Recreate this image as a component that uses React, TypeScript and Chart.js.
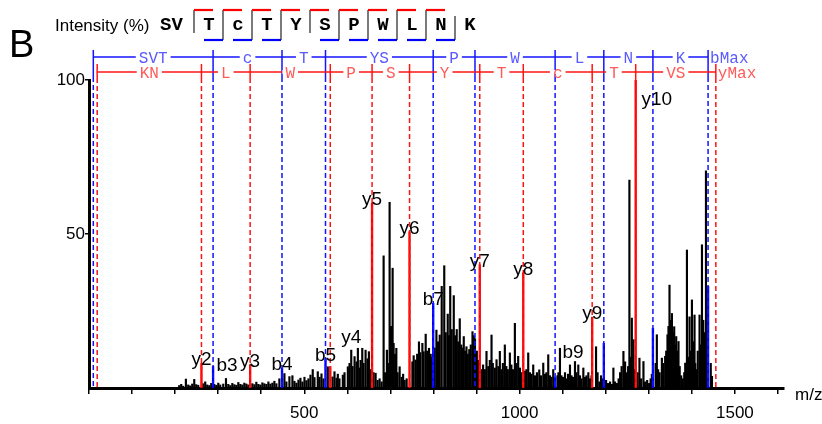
import React, { useEffect, useRef } from 'react';
import { Chart, registerables } from 'chart.js';
Chart.register(...registerables);

// ---------- data ----------
const sequence = 'SVTcTYSPWLNK';
const bBreaksShown = [3, 4, 5, 7, 8, 9, 10, 11];
const yBreaksShown = [2, 3, 4, 5, 6, 7, 8, 9, 10];

const bLadderMz = [10, 288.16, 448.19, 549.24, 799.33, 896.38, 1082.46, 1195.55, 1309.59, 1437.69];
const bLadderLabels = ['SVT', 'c', 'T', 'YS', 'P', 'W', 'L', 'N', 'K'];
const yLadderMz = [19, 261.16, 374.24, 560.32, 657.37, 744.4, 907.47, 1008.51, 1168.55, 1269.59, 1455.69];
const yLadderLabels = ['KN', 'L', 'W', 'P', 'S', 'Y', 'T', 'c', 'T', 'VS'];

const yPeakNames = ['y2', 'y3', 'y4', 'y5', 'y6', 'y7', 'y8', 'y9', 'y10'];
const yPeakMz = [261.16, 374.24, 560.32, 657.37, 744.4, 907.47, 1008.51, 1168.55, 1269.59];
const yPeakInt = [8, 7.6, 7, 60, 50.7, 40, 37.4, 23, 100];

const bPeakNames = ['b3', 'b4', 'b5', 'b7', 'b9', '', '', ''];
const bPeakMz = [288.16, 448.19, 549.24, 799.33, 1082.46, 1195.55, 1309.59, 1437.69];
const bPeakInt = [7, 6.5, 9.5, 27.5, 3.5, 14.5, 19.4, 33];

const spectrumMz = [
  209.4, 214.1, 218.7, 225.0, 230.4, 235.0, 239.7, 244.4, 249.0, 253.7, 265.3, 269.9, 274.6, 279.3, 283.9,
  290.9, 295.5, 300.2, 304.8, 311.8, 318.1, 323.5, 328.1, 332.8, 337.5, 342.1, 346.8, 351.4, 356.0, 360.7,
  365.4, 370.0, 379.3, 384.0, 388.6, 393.3, 397.9, 402.6, 407.2, 411.9, 416.6, 421.2, 425.9, 430.5, 435.2,
  442.1, 453.8, 458.4, 465.4, 472.4, 477.1, 481.7, 486.4, 491.0, 495.7, 500.4, 505.0, 509.6, 514.3, 519.6,
  523.6, 531.3, 535.3, 539.9, 544.5, 554.5, 565.5, 570.1, 574.8, 577.8, 581.6, 589.5, 593.4, 601.1, 605.0,
  609.0, 612.0, 616.7, 621.3, 624.4, 628.3, 630.6, 634.6, 637.6, 642.3, 646.9, 650.0, 653.9, 660.9, 665.6,
  670.2, 674.9, 679.5, 684.2, 687.7, 691.8, 695.8, 698.1, 700.5, 703.5, 705.1, 707.4, 710.9, 713.7, 716.7,
  721.4, 726.0, 729.5, 733.0, 737.7, 751.0, 754.0, 758.6, 762.1, 766.3, 769.1, 774.2, 777.2, 781.9, 785.4,
  789.6, 793.5, 797.0, 802.8, 806.8, 810.5, 814.5, 819.1, 825.0, 828.4, 833.1, 835.9, 838.9, 842.4, 847.1,
  850.6, 854.0, 857.5, 861.0, 864.5, 868.0, 870.3, 873.8, 876.6, 879.6, 883.1, 886.6, 890.6, 893.6, 896.4,
  900.6, 903.6, 911.1, 915.2, 919.2, 923.1, 927.3, 930.8, 934.8, 937.8, 942.5, 946.4, 950.6, 954.1, 957.6,
  961.1, 965.7, 969.2, 972.7, 977.4, 980.9, 984.4, 989.0, 992.5, 996.7, 1000.7, 1004.1, 1012.3, 1015.8, 1020.0,
  1023.9, 1027.4, 1031.6, 1035.6, 1040.2, 1045.6, 1049.5, 1054.9, 1058.8, 1062.3, 1066.5, 1070.5, 1073.9, 1078.1, 1087.9,
  1090.2, 1093.7, 1097.2, 1100.7, 1105.4, 1108.9, 1112.4, 1117.0, 1120.5, 1124.0, 1128.6, 1132.1, 1136.3, 1140.3, 1143.8,
  1148.0, 1151.9, 1155.4, 1159.6, 1163.6, 1167.0, 1177.5, 1181.0, 1185.2, 1189.1, 1192.6, 1200.8, 1205.4, 1210.1, 1214.7,
  1217.8, 1221.7, 1226.4, 1229.9, 1233.4, 1236.9, 1241.1, 1245.0, 1248.5, 1252.0, 1255.0, 1257.8, 1260.6, 1264.3, 1267.1,
  1274.1, 1278.3, 1282.2, 1287.6, 1291.5, 1296.2, 1300.8, 1304.3, 1307.1, 1315.9, 1318.7, 1321.7, 1325.2, 1330.4, 1333.4,
  1338.0, 1340.4, 1343.4, 1345.7, 1348.1, 1350.9, 1353.7, 1356.7, 1359.0, 1361.4, 1363.7, 1366.0, 1369.0, 1371.8, 1375.3,
  1378.8, 1382.3, 1384.6, 1388.6, 1391.6, 1394.6, 1397.4, 1400.2, 1403.2, 1406.2, 1407.9, 1410.2, 1413.7, 1417.9, 1420.7,
  1423.5, 1426.5, 1428.8, 1432.8, 1435.8, 1443.9, 1446.7,
];
const spectrumInt = [
  0.8, 1.2, 0.6, 2.9, 1.0, 0.7, 1.3, 2.8, 1.1, 0.9, 1.4, 2.0, 1.0, 0.8, 1.5,
  1.2, 0.9, 1.6, 1.0, 1.3, 3.1, 1.2, 0.8, 1.5, 1.1, 0.9, 1.8, 1.2, 1.0, 1.6,
  1.3, 1.0, 1.4, 1.1, 1.9, 1.2, 1.0, 1.7, 1.4, 1.2, 2.0, 1.3, 1.6, 2.2, 1.4,
  3.0, 4.7, 2.0, 3.7, 4.0, 2.2, 1.6, 2.6, 3.2, 2.0, 3.5, 2.4, 3.0, 4.2, 6.0,
  3.4, 5.3, 3.5, 4.6, 3.0, 6.9, 3.6, 5.3, 3.2, 4.5, 3.0, 4.2, 5.0, 6.9, 8.0,
  12.3, 7.0, 10.2, 8.5, 12.9, 6.5, 9.0, 12.9, 8.0, 12.3, 9.5, 11.8, 6.0, 5.0, 4.8,
  2.5, 3.0, 2.0, 42.9, 5.0, 12.3, 8.0, 60.3, 20.0, 20.0, 38.9, 14.5, 11.0, 12.9, 5.0,
  6.9, 3.5, 4.5, 2.5, 3.0, 8.5, 10.5, 9.1, 11.0, 15.0, 11.5, 14.5, 11.8, 17.5, 12.0,
  12.9, 11.0, 10.0, 13.0, 18.8, 15.0, 17.2, 33.0, 39.7, 18.0, 24.0, 17.0, 33.0, 19.0, 30.0,
  17.0, 19.0, 15.0, 22.5, 14.0, 13.0, 16.7, 12.0, 13.4, 11.0, 12.5, 14.0, 18.3, 17.0, 16.0,
  12.0, 9.0, 6.0, 7.5, 6.0, 11.9, 7.0, 9.0, 17.2, 8.0, 6.5, 9.2, 7.0, 11.9, 6.0,
  8.0, 14.0, 7.0, 6.0, 11.4, 7.5, 6.0, 21.0, 8.0, 10.3, 6.5, 5.0, 5.5, 6.0, 11.4,
  5.0, 4.5, 7.5, 4.0, 5.0, 5.9, 4.0, 8.1, 4.5, 5.0, 10.8, 4.0, 3.5, 6.0, 4.0,
  5.0, 12.9, 4.0, 3.5, 5.0, 3.0, 4.5, 7.5, 4.0, 3.5, 8.6, 5.0, 7.5, 4.0, 3.0,
  6.5, 3.5, 4.0, 5.0, 3.0, 4.0, 13.4, 5.0, 2.0, 4.0, 3.0, 2.5, 1.5, 2.0, 1.2,
  6.5, 2.0, 1.5, 3.0, 5.0, 7.0, 11.9, 8.5, 5.0, 7.0, 67.5, 10.0, 22.7, 15.7, 6.0,
  5.0, 9.7, 3.0, 8.6, 2.0, 2.5, 1.5, 3.0, 4.5, 8.0, 17.3, 6.0, 5.0, 9.7, 8.0,
  10.3, 12.0, 17.3, 20.0, 33.4, 22.0, 24.2, 18.0, 19.9, 14.0, 16.7, 12.0, 15.1, 7.0, 4.0,
  3.0, 5.0, 8.1, 44.8, 10.0, 23.1, 12.0, 28.6, 15.0, 23.7, 8.0, 6.0, 12.0, 23.7, 14.0,
  46.5, 22.0, 18.0, 70.5, 31.8, 8.0, 3.8,
];

const yTickValues = [50, 100];

// ---------- styling helpers ----------
const SANS = '"Liberation Sans", Arial, sans-serif';
const MONO = '"Liberation Mono", "Courier New", monospace';
const labelShift: Record<string, [number, number]> = {
  b3: [14, 3],
  y4: [21, -25],
  b9: [18, -21],
  y10: [21, 23],
};

function line(ctx: CanvasRenderingContext2D, x1: number, y1: number, x2: number, y2: number) {
  ctx.beginPath();
  ctx.moveTo(x1, y1);
  ctx.lineTo(x2, y2);
  ctx.stroke();
}

const annotatePlugin = {
  id: 'annotate',
  afterDatasetsDraw(chart: any) {
    const ctx: CanvasRenderingContext2D = chart.ctx;
    const xs = chart.scales.x;
    const ys = chart.scales.y;
    const base = ys.getPixelForValue(0);
    ctx.save();

    const drawLadder = (
      mzs: number[], labels: string[], endLabel: string,
      color: string, textColor: string, rowY: number, tickTop: number, tickBottom: number
    ) => {
      const px = mzs.map((m) => xs.getPixelForValue(m));
      ctx.strokeStyle = color;
      ctx.lineWidth = 1.5;
      ctx.setLineDash([5, 3]);
      px.forEach((x) => line(ctx, x, tickBottom, x, base));
      ctx.setLineDash([]);
      px.forEach((x) => line(ctx, x, tickTop, x, tickBottom));
      line(ctx, px[0], rowY, px[px.length - 1], rowY);
      ctx.font = '16px ' + MONO;
      ctx.textAlign = 'center';
      ctx.textBaseline = 'middle';
      labels.forEach((t, i) => {
        const cx = (px[i] + px[i + 1]) / 2;
        const w = ctx.measureText(t).width;
        ctx.fillStyle = '#fff';
        ctx.fillRect(cx - w / 2 - 3, rowY - 2, w + 6, 4);
        ctx.fillStyle = textColor;
        ctx.fillText(t, cx, rowY + 1.5);
      });
      ctx.textAlign = 'left';
      ctx.fillStyle = textColor;
      ctx.fillText(endLabel, px[px.length - 1] + 2, rowY + 1.5);
    };

    drawLadder(bLadderMz, bLadderLabels, 'bMax', 'rgb(20,20,255)', 'rgb(90,90,255)', 57, 50, 77);
    drawLadder(yLadderMz, yLadderLabels, 'yMax', 'rgb(255,20,20)', 'rgb(255,90,90)', 72, 64, 78);

    // peak labels
    ctx.font = '19px ' + SANS;
    ctx.fillStyle = '#000';
    ctx.textAlign = 'center';
    ctx.textBaseline = 'alphabetic';
    const drawLabels = (names: string[], mzs: number[], ints: number[]) => {
      names.forEach((n, i) => {
        if (!n) return;
        const sh = labelShift[n] || [0, 0];
        const x = xs.getPixelForValue(mzs[i]) + sh[0];
        const y = ys.getPixelForValue(ints[i]) + 2 + sh[1];
        ctx.fillText(n, x, y);
      });
    };
    drawLabels(yPeakNames, yPeakMz, yPeakInt);
    drawLabels(bPeakNames, bPeakMz, bPeakInt);

    // m/z axis title
    ctx.font = '17px ' + SANS;
    ctx.textAlign = 'left';
    ctx.fillText('m/z', 795, 400);

    // header
    ctx.font = '38px ' + SANS;
    ctx.fillText('B', 9, 57);
    ctx.font = '17px ' + SANS;
    ctx.fillText('Intensity (%)', 55, 31);

    ctx.font = 'bold 19px ' + MONO;
    ctx.textAlign = 'left';
    ctx.fillText(sequence.slice(0, 2), 160, 30);
    const firstBreak = 194;
    const step = 29;
    ctx.textAlign = 'center';
    for (let k = 2; k < sequence.length; k++) {
      ctx.fillText(sequence[k], firstBreak + (k - 2) * step + 15, 30);
    }
    const n = sequence.length;
    for (let i = 2; i < n; i++) {
      const xb = firstBreak + (i - 2) * step;
      const hasY = yBreaksShown.includes(n - i);
      const hasB = bBreaksShown.includes(i);
      if (!hasY && !hasB) continue;
      ctx.strokeStyle = '#222';
      ctx.lineWidth = 1.2;
      line(ctx, xb, hasY ? 10 : 16, xb, hasB ? 40 : 33);
      ctx.lineWidth = 2.2;
      if (hasY) {
        ctx.strokeStyle = 'rgb(255,0,0)';
        line(ctx, xb, 10, xb + 19, 10);
      }
      if (hasB) {
        ctx.strokeStyle = 'rgb(0,0,255)';
        line(ctx, xb - 19, 40, xb, 40);
      }
    }
    ctx.restore();
  },
};

export default function App() {
  const ref = useRef<HTMLCanvasElement>(null);
  useEffect(() => {
    const canvas = ref.current!;
    const chart = new Chart(canvas, {
      type: 'bar',
      data: {
        datasets: [
          {
            data: yPeakMz.map((x, i) => ({ x, y: yPeakInt[i] })),
            backgroundColor: 'rgb(255,0,0)',
            barThickness: 1.7,
            grouped: false,
            order: 1,
          } as any,
          {
            data: bPeakMz.map((x, i) => ({ x, y: bPeakInt[i] })),
            backgroundColor: 'rgb(0,0,255)',
            barThickness: 1.7,
            grouped: false,
            order: 2,
          } as any,
          {
            data: spectrumMz.map((x, i) => ({ x, y: spectrumInt[i] })),
            backgroundColor: '#000',
            barThickness: 1.5,
            grouped: false,
            order: 3,
          } as any,
        ],
      },
      options: {
        responsive: false,
        animation: false,
        devicePixelRatio: 1,
        layout: { padding: { left: 0, right: 38, top: 80, bottom: 0 } },
        plugins: { legend: { display: false }, tooltip: { enabled: false } },
        scales: {
          x: {
            type: 'linear',
            min: 0,
            max: 1614,
            offset: false,
            afterFit: (s: any) => { s.height = 36; },
            border: { display: true, color: '#000', width: 3 },
            grid: { offset: false, drawOnChartArea: false, drawTicks: true, tickLength: 6, color: '#000', lineWidth: 1.5 },
            ticks: {
              stepSize: 100,
              includeBounds: false,
              autoSkip: false,
              maxRotation: 0,
              padding: 9,
              color: '#000',
              font: { family: SANS, size: 17 },
              callback: (v: any) => (v % 500 === 0 && v > 0 ? String(v) : ''),
            },
          },
          y: {
            min: 0,
            max: 100,
            afterFit: (s: any) => { s.width = 89; },
            afterBuildTicks: (s: any) => { s.ticks = yTickValues.map((value) => ({ value })); },
            border: { display: true, color: '#000', width: 3 },
            grid: { drawOnChartArea: false, drawTicks: true, tickLength: 4, color: '#000', lineWidth: 1.5 },
            ticks: {
              padding: 0,
              color: '#000',
              font: { family: SANS, size: 17 },
              callback: (v: any) => String(v),
            },
          },
        },
      } as any,
      plugins: [annotatePlugin],
    });
    return () => chart.destroy();
  }, []);
  return (
    <div style={{ position: 'fixed', left: 0, top: 0, width: 822, height: 424, background: '#fff' }}>
      <canvas ref={ref} width={822} height={424} style={{ display: 'block' }} />
    </div>
  );
}
